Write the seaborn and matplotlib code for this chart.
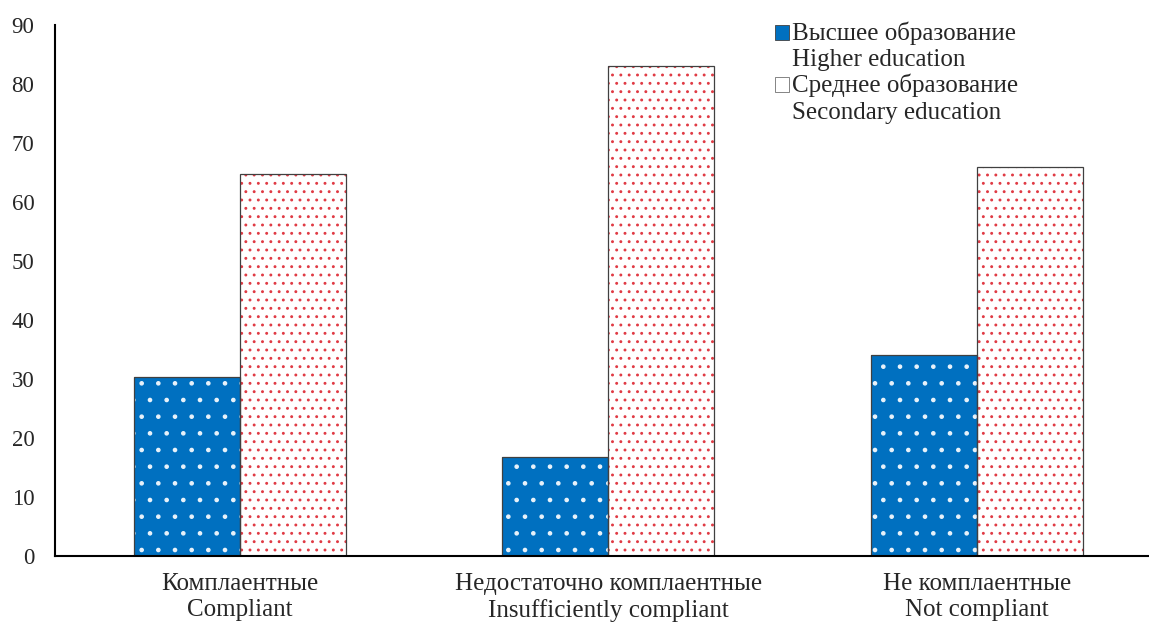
import matplotlib
matplotlib.use("Agg")
import matplotlib.pyplot as plt
from matplotlib.patches import Rectangle, Patch
from matplotlib.legend_handler import HandlerPatch
import seaborn as sns
import pandas as pd

categories = ["Комплаентные\nCompliant",
              "Недостаточно комплаентные\nInsufficiently compliant",
              "Не комплаентные\nNot compliant"]
series_names = ["Высшее образование\nHigher education",
                "Среднее образование\nSecondary education"]
higher_edu = [30.4, 16.8, 34.0]
secondary_edu = [64.8, 83.0, 65.9]
y_ticks = [0, 10, 20, 30, 40, 50, 60, 70, 80, 90]

df = pd.DataFrame({
    "category": categories * 2,
    "group": [series_names[0]] * 3 + [series_names[1]] * 3,
    "value": higher_edu + secondary_edu,
})

sns.set_theme(style="white")
plt.rcParams["font.family"] = ["Liberation Serif", "DejaVu Serif"]
plt.rcParams["hatch.linewidth"] = 0.9

FS_TICK = 16.5
FS_TEXT = 18

fig = plt.figure(figsize=(11.49, 6.22), dpi=100)
ax = fig.add_axes([0.048, 0.106, 0.963, 0.854])

blue = "#0070C0"
red = "#E03A44"
sns.barplot(data=df, x="category", y="value", hue="group",
            hue_order=series_names, order=categories,
            palette=[blue, "white"], width=0.575, gap=0,
            saturation=1, legend=False, ax=ax)

bars = ax.patches[:6]
for i, p in enumerate(bars):
    if i < 3:
        p.set_facecolor(blue)
        p.set_edgecolor("#E8F2FA")
        p.set_hatch(".")
    else:
        p.set_facecolor("white")
        p.set_edgecolor(red)
        p.set_hatch("..")
    p.set_linewidth(0)
    # thin outline drawn over the hatched bar
    ax.add_patch(Rectangle(p.get_xy(), p.get_width(), p.get_height(),
                           fill=False, edgecolor="#404040", linewidth=0.9,
                           zorder=p.get_zorder() + 0.1))

ax.set_ylim(0, 90)
ax.set_xlim(-0.5, 2.5)
ax.set_yticks(y_ticks)
ax.set_yticklabels([str(t) for t in y_ticks], fontsize=FS_TICK)
ax.tick_params(axis="x", labelsize=FS_TEXT, length=0, pad=12)
ax.tick_params(axis="y", length=0, pad=15)
for lab in ax.get_xticklabels():
    lab.set_linespacing(1.25)
ax.set_xlabel("")
ax.set_ylabel("")
for s in ["top", "right"]:
    ax.spines[s].set_visible(False)
for s in ["left", "bottom"]:
    ax.spines[s].set_color("black")
    ax.spines[s].set_linewidth(1.5)


def first_line_square(legend, orig_handle, xdescent, ydescent,
                      width, height, fontsize):
    # keep the legend key level with the first line of its two-line label
    return Rectangle((-xdescent, -ydescent + 0.56 * fontsize), width, height)


handles = [Patch(facecolor=blue, edgecolor="#404040", linewidth=0.6),
           Patch(facecolor="white", edgecolor="#707070", linewidth=0.6)]
leg = ax.legend(handles, series_names, loc="upper left",
                bbox_to_anchor=(0.651, 1.006), frameon=False, fontsize=FS_TEXT,
                handlelength=0.55, handleheight=0.55, handletextpad=0.1,
                labelspacing=0.1, borderaxespad=0, borderpad=0,
                handler_map={Patch: HandlerPatch(patch_func=first_line_square)})
for t in leg.get_texts():
    t.set_linespacing(1.25)

fig.savefig("out.png", dpi=100)
